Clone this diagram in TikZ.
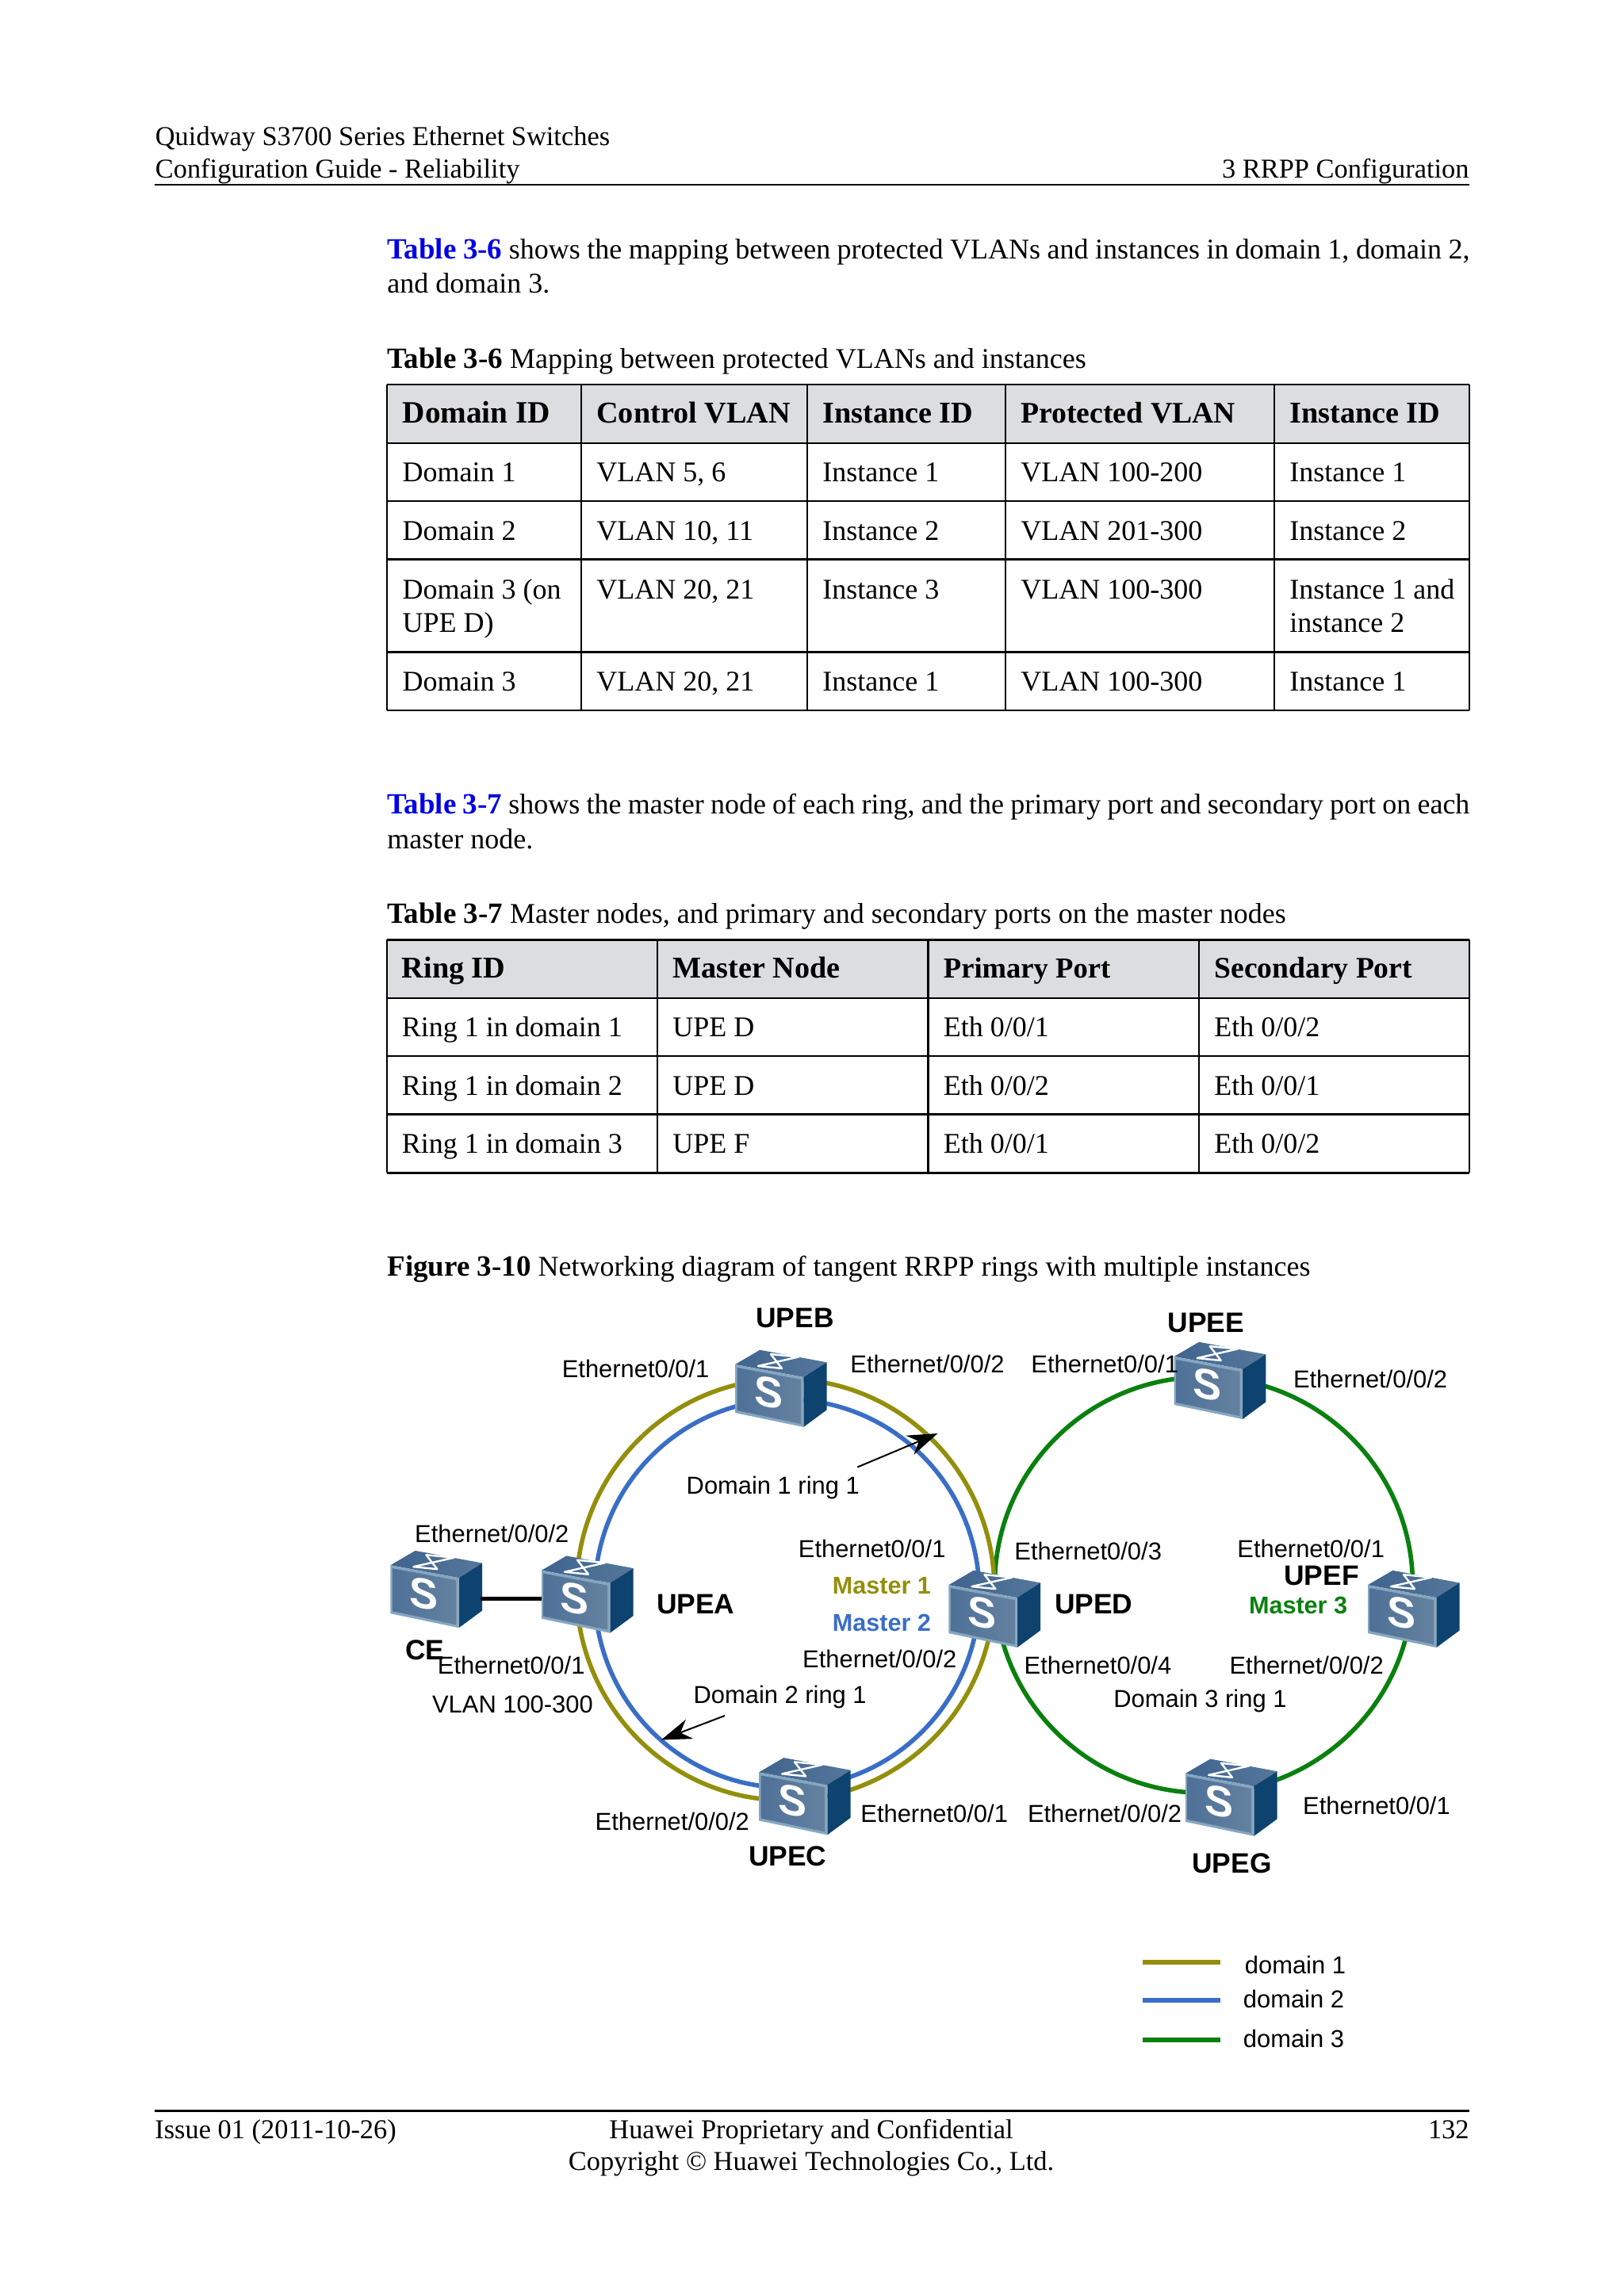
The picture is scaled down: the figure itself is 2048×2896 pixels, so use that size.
\documentclass[tikz,border=0pt]{standalone}
\usepackage{fontspec}
\setmainfont{Liberation Serif}
\newfontfamily\dsans{Liberation Sans}
\usetikzlibrary{arrows.meta}
\definecolor{olivering}{HTML}{938F0C}
\definecolor{bluering}{HTML}{3A6EC6}
\definecolor{greenring}{HTML}{0A800F}
\definecolor{linkblue}{HTML}{0000E6}
\definecolor{headgray}{HTML}{DCDDE0}
\definecolor{faceA}{HTML}{4F7198}
\definecolor{faceB}{HTML}{64819F}
\definecolor{faceedge}{HTML}{86A6C0}
\definecolor{topA}{HTML}{3F648E}
\definecolor{topB}{HTML}{56779B}
\definecolor{sideface}{HTML}{0E4370}
\newcommand{\bodyfont}{\fontsize{18}{20}\selectfont}
\newcommand{\pagefont}{\fontsize{17.2}{20}\selectfont}
\newcommand{\headfont}{\fontsize{19.1}{22}\selectfont\bfseries}
\newcommand{\capb}[1]{{\fontsize{18.5}{20}\selectfont\bfseries #1}}
\newcommand{\cellx}[4]{\node[bodytxt] (#1) at (#2,#3) {#4};}
\newcommand{\cellh}[4]{\node[headtxt] (#1) at (#2,#3) {#4};}
\newcommand{\pagel}[4]{\node[pagetxt] (#1) at (#2,#3) {#4};}
\newcommand{\lbl}[4]{\node[porttxt] (#1) at (#2,#3) {#4};}
\newcommand{\nam}[4]{\node[nametxt] (#1) at (#2,#3) {#4};}
\tikzset{
  x=0.5pt,y=-0.5pt,
  bodytxt/.style={inner sep=0pt,anchor=base west,font=\bodyfont},
  pagetxt/.style={inner sep=0pt,anchor=base west,font=\pagefont},
  headtxt/.style={inner sep=0pt,anchor=base west,font=\headfont},
  porttxt/.style={inner sep=0pt,anchor=base west,font=\dsans\fontsize{15.45}{17}\selectfont},
  nametxt/.style={inner sep=0pt,anchor=base west,font=\dsans\fontsize{17.7}{19}\selectfont\bfseries},
  mastertxt/.style={inner sep=0pt,anchor=base west,font=\dsans\fontsize{15.3}{17}\selectfont\bfseries},
  rulethick/.style={line width=1.3pt,black},
  ringline/.style={line width=2.8pt},
  callout/.style={line width=1pt,black,-{Stealth[length=19pt,width=13pt]}},
  switchicon/.pic={
    \shade[left color=topA,right color=topB] (0,0)--(31.3,-18.3)--(115.7,-2.7)--(86.3,16)--cycle;
    \fill[sideface] (86.3,16)--(115.7,-2.7)--(115.7,57.3)--(86.3,79)--cycle;
    \fill[faceedge] (0,0)--(86.3,16)--(86.3,79)--(0,61)--cycle;
    \shade[left color=faceA,right color=faceB] (2.5,4)--(83,19)--(83,75)--(2.5,58)--cycle;
    \draw[white,line width=1.2pt,line join=round] (45,-13)--(80,-9.5)--(29,2)--(59,5)--cycle;
    \node[inner sep=0pt,white,font=\dsans\fontsize{27}{27}\selectfont\bfseries,yslant=-0.19,transform shape] (-s) at (42,35.7) {S};
    \coordinate (-e) at (113.6,42.5);
    \coordinate (-w) at (0,36);
  }
}
\begin{document}
\begin{tikzpicture}
\useasboundingbox (0,0) rectangle (2048,2896);
% page header and footer
\draw[rulethick] (195,233) -- (1853,233);
\draw[rulethick] (195,2662.7) -- (1853,2662.7);
\pagel{h1}{195.5}{183}{Quidway S3700 Series Ethernet Switches}
\pagel{h2}{195.5}{224}{Configuration Guide - Reliability}
\node[pagetxt,anchor=base east] (h3) at (1853,224) {3 RRPP Configuration};
\pagel{f1}{195}{2697}{Issue 01 (2011-10-26)}
\node[pagetxt,anchor=base] (f2) at (1023,2697) {Huawei Proprietary and Confidential};
\node[pagetxt,anchor=base] (f3) at (1023,2737.5) {Copyright © Huawei Technologies Co., Ltd.};
\node[pagetxt,anchor=base east] (f4) at (1853,2697) {132};
% paragraphs
\node[bodytxt] (p1) at (488,326.7) {\makebox[682.5pt][s]{\textcolor{linkblue}{\capb{Table 3-6}} shows the mapping between protected VLANs and instances in domain 1, domain 2,}};
\cellx{p1b}{488}{369}{and domain 3.}
\cellx{c1}{488}{464}{\capb{Table 3-6} Mapping between protected VLANs and instances}
\node[bodytxt] (p2) at (488,1026.5) {\makebox[682.5pt][s]{\textcolor{linkblue}{\capb{Table 3-7}} shows the master node of each ring, and the primary port and secondary port on each}};
\cellx{p2b}{488}{1070.3}{master node.}
\cellx{c2}{488}{1164}{\capb{Table 3-7} Master nodes, and primary and secondary ports on the master nodes}
\cellx{c3}{488}{1609}{\capb{Figure 3-10} Networking diagram of tangent RRPP rings with multiple instances}
% table 3-6
\fill[headgray] (488,485) rectangle (1853,559);
\foreach \ry in {485,559,632,705.7,822.3,896} \draw[rulethick] (488,\ry) -- (1853,\ry);
\foreach \rx in {488,733,1018,1268,1607,1853} \draw[rulethick] (\rx,485) -- (\rx,896);
\node[headtxt,font=\fontsize{19.6}{22}\selectfont\bfseries] (ta1) at (507.3,533.3) {Domain ID};
\cellh{ta2}{752}{533.3}{Control VLAN}
\cellh{ta3}{1037}{533.3}{Instance ID}
\node[headtxt,font=\fontsize{18.85}{22}\selectfont\bfseries] (ta4) at (1287,533.3) {Protected VLAN};
\cellh{ta5}{1626}{533.3}{Instance ID}
\cellx{tb1}{507.3}{607.3}{Domain 1}
\cellx{tb2}{752}{607.3}{VLAN 5, 6}
\cellx{tb3}{1037}{607.3}{Instance 1}
\cellx{tb4}{1287}{607.3}{VLAN 100-200}
\cellx{tb5}{1626}{607.3}{Instance 1}
\cellx{tc1}{507.3}{681}{Domain 2}
\cellx{tc2}{752}{681}{VLAN 10, 11}
\cellx{tc3}{1037}{681}{Instance 2}
\cellx{tc4}{1287}{681}{VLAN 201-300}
\cellx{tc5}{1626}{681}{Instance 2}
\cellx{td1}{507.3}{755}{Domain 3 (on}
\cellx{td1b}{507.3}{797.3}{UPE D)}
\cellx{td2}{752}{755}{VLAN 20, 21}
\cellx{td3}{1037}{755}{Instance 3}
\cellx{td4}{1287}{755}{VLAN 100-300}
\cellx{td5}{1626}{755}{Instance 1 and}
\cellx{td5b}{1626}{797.3}{instance 2}
\cellx{te1}{507.3}{871.7}{Domain 3}
\cellx{te2}{752}{871.7}{VLAN 20, 21}
\cellx{te3}{1037}{871.7}{Instance 1}
\cellx{te4}{1287}{871.7}{VLAN 100-300}
\cellx{te5}{1626}{871.7}{Instance 1}
% table 3-7
\fill[headgray] (488,1185.3) rectangle (1853,1259);
\foreach \ry in {1185.3,1259,1332,1405.7,1479.4} \draw[rulethick] (488,\ry) -- (1853,\ry);
\foreach \rx in {488,829,1170.5,1512,1853} \draw[rulethick] (\rx,1185.3) -- (\rx,1479.4);
\cellh{ua1}{506.4}{1233.6}{Ring ID}
\cellh{ua2}{848}{1233.6}{Master Node}
\node[headtxt,font=\fontsize{18.3}{22}\selectfont\bfseries] (ua3) at (1189.5,1233.6) {Primary Port};
\node[headtxt,font=\fontsize{18.8}{22}\selectfont\bfseries] (ua4) at (1531,1233.6) {Secondary Port};
\cellx{ub1}{506.4}{1307}{Ring 1 in domain 1}
\cellx{ub2}{848}{1307}{UPE D}
\cellx{ub3}{1189.5}{1307}{Eth 0/0/1}
\cellx{ub4}{1531}{1307}{Eth 0/0/2}
\cellx{uc1}{506.4}{1381}{Ring 1 in domain 2}
\cellx{uc2}{848}{1381}{UPE D}
\cellx{uc3}{1189.5}{1381}{Eth 0/0/2}
\cellx{uc4}{1531}{1381}{Eth 0/0/1}
\cellx{ud1}{506.4}{1454.4}{Ring 1 in domain 3}
\cellx{ud2}{848}{1454.4}{UPE F}
\cellx{ud3}{1189.5}{1454.4}{Eth 0/0/1}
\cellx{ud4}{1531}{1454.4}{Eth 0/0/2}
% rings
\draw[ringline,greenring] (1518,1999.1) ellipse [x radius=263.5,y radius=262.3];
\draw[ringline,olivering] (990.5,2005) ellipse [x radius=263.5,y radius=265.7];
\draw[ringline,bluering] (992.5,2010) ellipse [x radius=242.5,y radius=244.8];
% switches
\pic (ce) at (492.4,1974.2) {switchicon};
\pic (upea) at (683,1980.7) {switchicon};
\pic (upeb) at (927,1721) {switchicon};
\pic (upec) at (957,2235.4) {switchicon};
\pic (uped) at (1196.4,1999.1) {switchicon};
\pic (upee) at (1480.7,1711) {switchicon};
\pic (upef) at (1725,1999.1) {switchicon};
\pic (upeg) at (1495,2236.9) {switchicon};
\draw[black,line width=2.5pt] (ce-e) -- (upea-w);
% device names
\nam{nb}{953}{1674.7}{UPEB}
\nam{na}{827.7}{2035.9}{UPEA}
\nam{nce}{510.7}{2093.6}{CE}
\nam{nc}{943.8}{2353.8}{UPEC}
\nam{nd}{1329.6}{2035.9}{UPED}
\nam{ne}{1472.3}{1680.7}{UPEE}
\nam{nf}{1618.8}{1999.1}{UPEF}
\nam{ng}{1503}{2362.3}{UPEG}
\node[mastertxt,text=olivering] (m1) at (1049.4,2010.5) {Master 1};
\node[mastertxt,text=bluering] (m2) at (1049.4,2057.8) {Master 2};
\node[mastertxt,text=greenring] (m3) at (1574.6,2035.9) {Master 3};
% port labels
\lbl{l1}{708.4}{1737.9}{Ethernet0/0/1}
\lbl{l2}{1072}{1731.9}{Ethernet/0/0/2}
\lbl{l3}{865.3}{1884.7}{Domain 1 ring 1}
\lbl{l4}{522.8}{1945.9}{Ethernet/0/0/2}
\lbl{l5}{1006.5}{1964.8}{Ethernet0/0/1}
\lbl{l6}{551.5}{2111.5}{Ethernet0/0/1}
\lbl{l7}{544.7}{2160.3}{VLAN 100-300}
\lbl{l8}{1011.8}{2103.6}{Ethernet/0/0/2}
\lbl{l9}{874.2}{2148.3}{Domain 2 ring 1}
\lbl{l10}{750.3}{2308}{Ethernet/0/0/2}
\lbl{l11}{1085}{2298.6}{Ethernet0/0/1}
\lbl{l12}{1300}{1731.9}{Ethernet0/0/1}
\lbl{l13}{1630.6}{1750.3}{Ethernet/0/0/2}
\lbl{l14}{1279}{1967.3}{Ethernet0/0/3}
\lbl{l15}{1560}{1964.3}{Ethernet0/0/1}
\lbl{l16}{1291.3}{2111.5}{Ethernet0/0/4}
\lbl{l17}{1550.2}{2111.5}{Ethernet/0/0/2}
\lbl{l18}{1404}{2153.3}{Domain 3 ring 1}
\lbl{l19}{1295.6}{2298.1}{Ethernet/0/0/2}
\lbl{l20}{1642.8}{2288.6}{Ethernet0/0/1}
% callout arrows
\coordinate (a1s) at (1081.3,1850.5);
\coordinate (a1t) at (1182.5,1808);
\coordinate (a2s) at (914,2164);
\coordinate (a2t) at (834,2194.5);
\draw[callout] (a1s) -- (a1t);
\draw[callout] (a2s) -- (a2t);
% legend
\coordinate (k1a) at (1441,2475); \coordinate (k1b) at (1538.6,2475);
\coordinate (k2a) at (1441,2523); \coordinate (k2b) at (1538.6,2523);
\coordinate (k3a) at (1441,2573); \coordinate (k3b) at (1538.6,2573);
\draw[ringline,olivering] (k1a) -- (k1b);
\draw[ringline,bluering] (k2a) -- (k2b);
\draw[ringline,greenring] (k3a) -- (k3b);
\lbl{k1}{1569.5}{2489.3}{domain 1}
\lbl{k2}{1567.5}{2532.7}{domain 2}
\lbl{k3}{1567.5}{2582}{domain 3}
\end{tikzpicture}
\end{document}
